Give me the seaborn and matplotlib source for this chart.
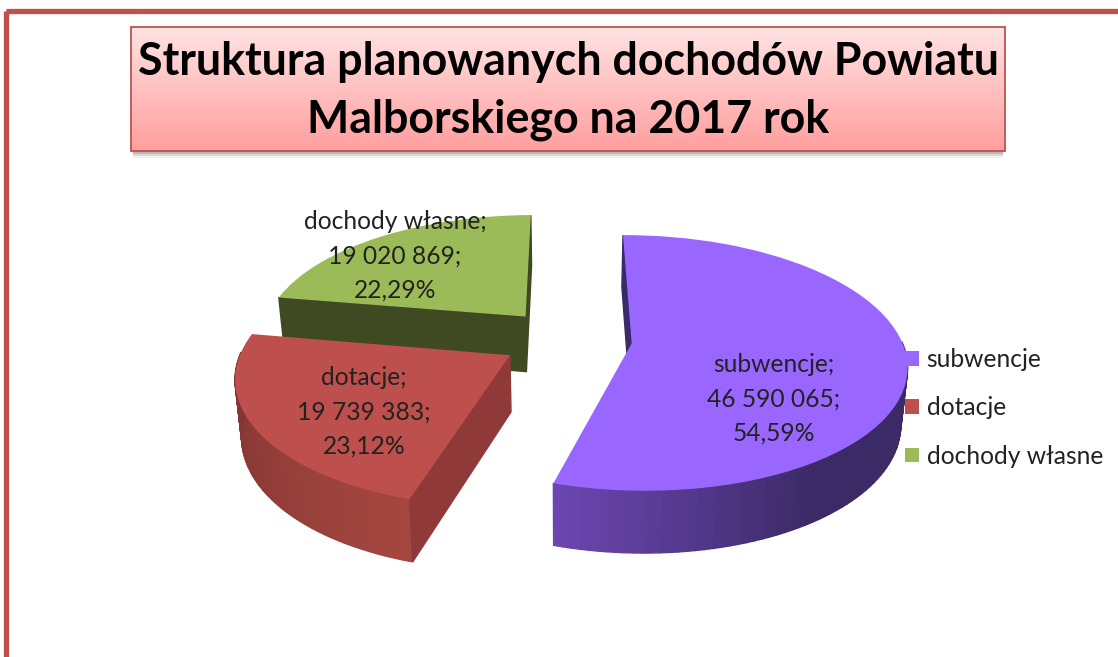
import numpy as np
import matplotlib
matplotlib.use("Agg")
import matplotlib.pyplot as plt
import matplotlib.transforms as mtransforms
from matplotlib.patches import Polygon, Rectangle
import seaborn as sns

categories = ["subwencje", "dotacje", "dochody własne"]
values = [46590065, 19739383, 19020869]
value_labels = ["46 590 065", "19 739 383", "19 020 869"]
percent_labels = ["54,59%", "23,12%", "22,29%"]
title_lines = "Struktura planowanych dochodów Powiatu\nMalborskiego na 2017 rok"

top_colors = ["#9966ff", "#bd4f4c", "#9bbb59"]
cut_colors = ["#3a2a68", "#8f3a38", "#3f4a22"]
rim_colors = [
    ["#3b2a66", "#3b2a66", "#3b2a66", "#3b2a66", "#6b46b0"],
    ["#a5473f", "#8f3b38", "#7d3331"],
    ["#3f4a22", "#3f4a22"],
]
label_xy = [(774, 399), (364, 412), (395, 256)]

# pie geometry, picture pixels
CX, CY = 566.5, 339
RX, RY, PERSP, PERSP_X = 267, 123.3, 0.152, 0.006
EXPLODE = 0.245


class Tilt(mtransforms.Transform):
    # lays the flat pie down in perspective, z=1 gives the underside
    input_dims = 2
    output_dims = 2

    def __init__(self, z=0):
        super().__init__()
        self.z = z

    def transform_non_affine(self, xy):
        xy = np.asarray(xy, dtype=float)
        w = 1 + PERSP * xy[:, 1] - PERSP_X * xy[:, 0]
        px = CX + RX * xy[:, 0] / w
        py = CY - RY * xy[:, 1] / w
        if self.z:
            depth = 55 + (py - 315) * 0.0417
            px = CX + (px - CX) * 0.98
            py = py + depth
        return np.column_stack([px, py])


def add_wall(ax, upper, color, zorder):
    tilt, under = Tilt(0), Tilt(1)
    pts = np.vstack([tilt.transform_non_affine(upper),
                     under.transform_non_affine(upper[::-1])])
    ax.add_patch(Polygon(pts, closed=True, fc=color, ec=color, lw=1.0, zorder=zorder))


sns.set_theme(style="white")
plt.rcParams["font.family"] = ["Lato", "DejaVu Sans"]

fig = plt.figure(figsize=(11.18, 6.57), dpi=100, facecolor="white")
ax = fig.add_axes([0, 0, 1, 1])

wedges, _ = ax.pie(values, explode=[EXPLODE] * 3, startangle=90, counterclock=False,
                   colors=top_colors, radius=1, wedgeprops={"linewidth": 0})
ax.set_aspect("auto")

layer = {0: 6, 1: 4, 2: 2}
for i, w in enumerate(wedges):
    cx, cy = w.center
    t = np.radians(np.linspace(w.theta2, w.theta1, 120))
    rim = np.column_stack([cx + w.r * np.cos(t), cy + w.r * np.sin(t)])
    z = layer[i]
    shades = sns.blend_palette(rim_colors[i], len(t) - 1)
    for k in range(len(t) - 1):
        # only the front of the rim shows
        if np.sin(t[k]) < 0.02:
            add_wall(ax, rim[k:k + 2], shades[k], z)
    apex = np.array([[cx, cy]])
    add_wall(ax, np.vstack([rim[:1], apex]), cut_colors[i], z)
    if i == 2:
        add_wall(ax, np.vstack([rim[-1:], apex]), cut_colors[i], z)
    w.set_transform(Tilt(0) + ax.transData)
    w.set_zorder(z + 1)

for i in range(3):
    ax.text(label_xy[i][0], label_xy[i][1],
            f"{categories[i]};\n{value_labels[i]};\n{percent_labels[i]}",
            ha="center", va="center", fontsize=17.7, color="#222222",
            linespacing=1.58, zorder=10)

leg = ax.legend(wedges, categories, loc="upper left", bbox_to_anchor=(905 / 1118, 1 - 348 / 657),
                frameon=False, fontsize=17.7, labelcolor="#222222", handlelength=0.55,
                handleheight=0.55, handletextpad=0.33, labelspacing=1.03, borderpad=0,
                borderaxespad=0)
leg.set_zorder(10)

# title box
for off, alpha in [(7, 0.08), (5, 0.14), (3, 0.25)]:
    ax.add_patch(Rectangle((133, 40), 870, 111 + off, fc="#555555", ec="none", alpha=alpha, zorder=11))
grad = np.linspace(0, 1, 124)[:, None, None]
top, bot = np.array([1.0, 0.89, 0.89]), np.array([1.0, 0.62, 0.62])
ax.imshow(top + (bot - top) * grad, extent=[131, 1005, 151, 27], aspect="auto", zorder=12)
ax.add_patch(Rectangle((131, 27), 874, 124, fc="none", ec="#c0504d", lw=1.3, zorder=13))
ax.text(568, 91, title_lines, ha="center", va="center", fontsize=32.2, fontweight="bold",
        color="black", linespacing=1.43, zorder=14)

# slide frame
ax.add_patch(Rectangle((6, 10.5), 1300, 900, fc="none", ec="#c0504d", lw=3.8, zorder=1))

ax.set_xlim(0, 1118)
ax.set_ylim(657, 0)
ax.set_axis_off()

fig.savefig("out.png", dpi=100)
plt.close(fig)
